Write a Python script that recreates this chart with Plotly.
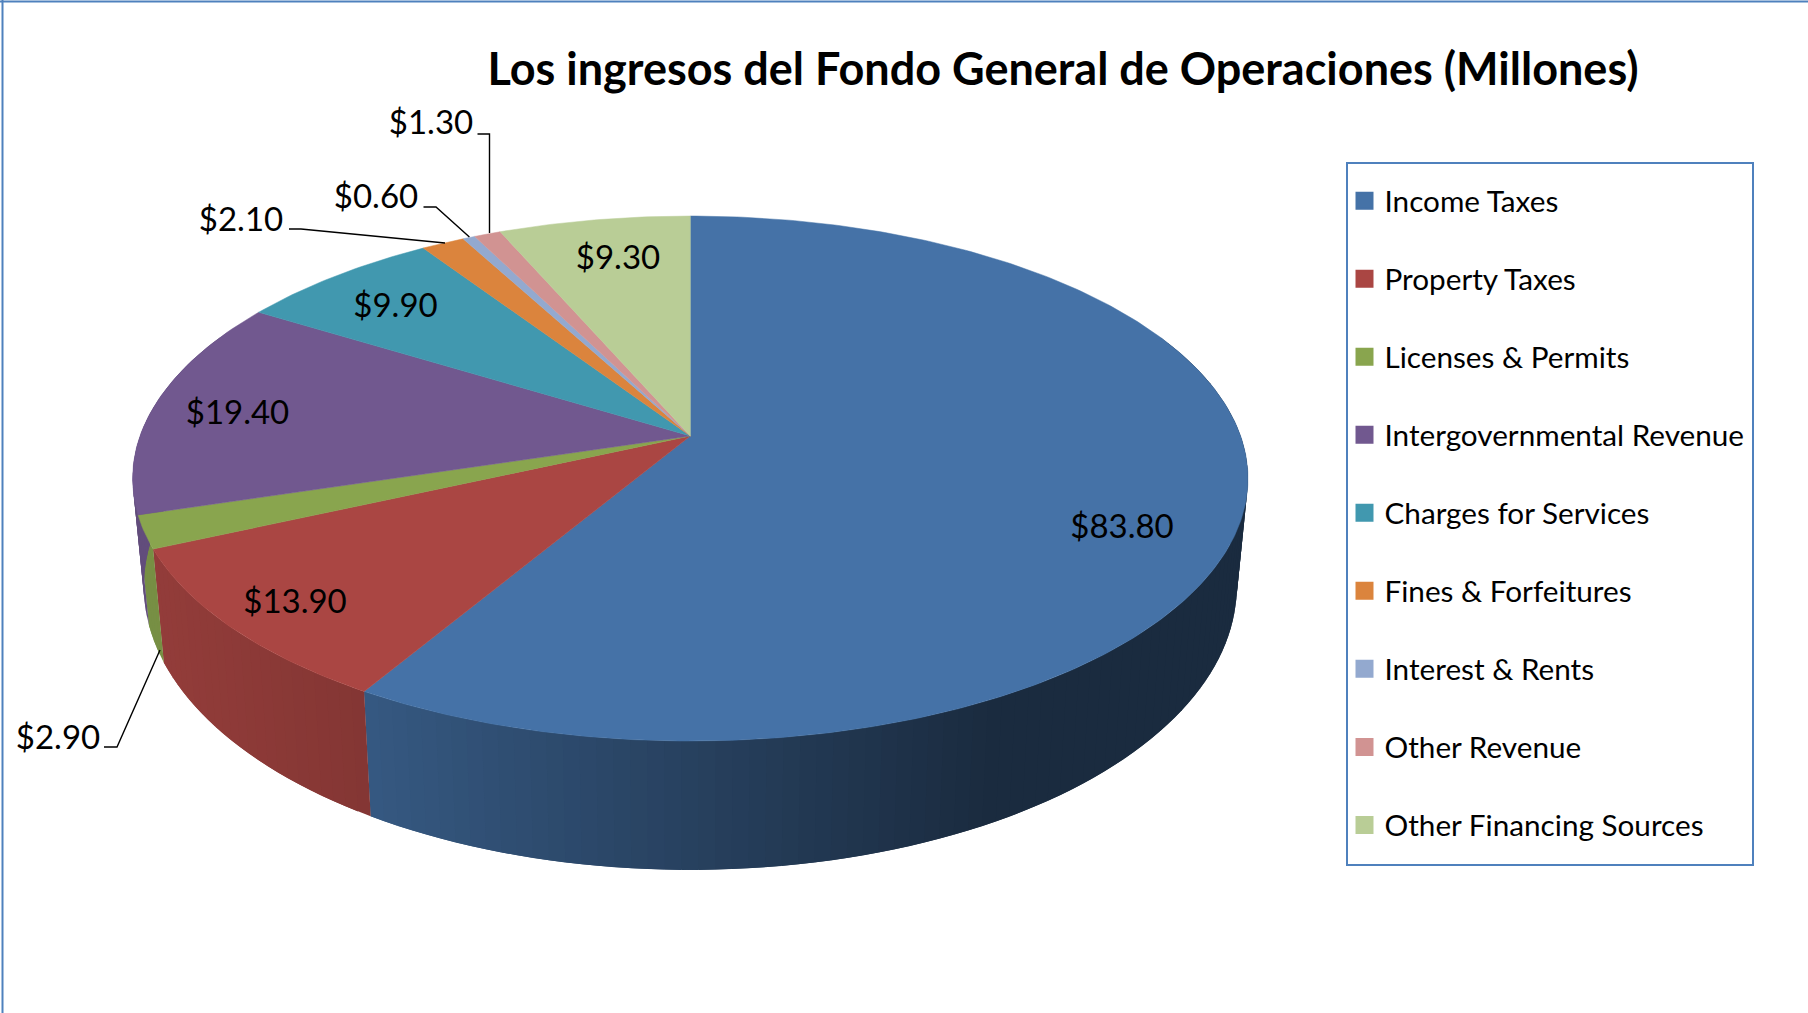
import numpy as np
import plotly.graph_objects as go

# ---- data ----
categories = ["Income Taxes", "Property Taxes", "Licenses & Permits",
              "Intergovernmental Revenue", "Charges for Services",
              "Fines & Forfeitures", "Interest & Rents", "Other Revenue",
              "Other Financing Sources"]
values = [83.8, 13.9, 2.9, 19.4, 9.9, 2.1, 0.6, 1.3, 9.3]
colors = ["#4572A7", "#AA4643", "#89A54E", "#71588F", "#4198AF",
          "#DB843D", "#93A9CF", "#D19392", "#B9CD96"]
title = "Los ingresos del Fondo General de Operaciones (Millones)"

# ---- layout (page pixels) ----
W, H = 1808, 1013
CX, APEX_Y = 690.3, 436.0
A, B, K = 550.3, 255.6, 0.162       # perspective disc
BOTTOM_SX, BOTTOM_SY, BOTTOM_APEX_Y = 0.98, 1.08, 540.5
label_x = [1122, 295, 58, 237.5, 395.5, 241, 376, 431, 618]
label_y = [530, 605, 741, 415.5, 308.5, 223, 200, 126, 260.5]
leaders = [
    ([104, 117, 160], [747, 747, 650]),
    ([289, 301, 445], [229, 229, 243]),
    ([423.5, 436, 469.4], [207, 207, 237]),
    ([477.5, 489.5, 489.5], [134, 134, 233]),
]
FONT = "Lato"
FRAME = "#4F81BD"


def rim(theta, sx=1.0, sy=1.0, apex_y=APEX_Y):
    """Clockwise angle from 12 o'clock -> page pixels, in perspective."""
    X, Y = np.sin(theta), np.cos(theta)
    w = 1 + K * Y
    return CX + sx * A * X / w, apex_y - sy * B * Y / w


def shade(hex_color, x):
    f = np.interp(x, [140, 372, 989, 1248], [0.87, 0.77, 0.38, 0.38])
    r, g, b = (int(hex_color[i:i + 2], 16) for i in (1, 3, 5))
    return f"rgb({r * f:.0f},{g * f:.0f},{b * f:.0f})"


fractions = np.array(values) / sum(values)
edges = np.concatenate([[0], np.cumsum(fractions)]) * 2 * np.pi

fig = go.Figure()

# side wall: bands overlap the next ones so no seams show
for i, col in enumerate(colors):
    t0, t1 = edges[i], edges[i + 1]
    n = max(2, int((t1 - t0) / np.radians(1.5)) + 1)
    ts = np.linspace(t0, t1, n + 1)
    for j in range(n):
        a = ts[j]
        b = ts[min(j + 2, n)]
        if np.cos((a + ts[j + 1]) / 2) > 0.4:
            continue
        seg = np.linspace(a, b, 5)
        xt, yt = rim(seg)
        xb, yb = rim(seg[::-1], BOTTOM_SX, BOTTOM_SY, BOTTOM_APEX_Y)
        c = shade(col, float(rim(np.array([(a + ts[j + 1]) / 2]))[0][0]))
        fig.add_trace(go.Scatter(
            x=np.concatenate([xt, xb]), y=np.concatenate([yt, yb]),
            mode="lines", fill="toself", fillcolor=c,
            line=dict(width=0), hoverinfo="skip", showlegend=False))

# top face
for i, col in enumerate(colors):
    seg = np.linspace(edges[i], edges[i + 1], max(4, int((edges[i + 1] - edges[i]) / np.radians(0.7))))
    xt, yt = rim(seg)
    fig.add_trace(go.Scatter(
        x=np.concatenate([[CX], xt, [CX]]), y=np.concatenate([[APEX_Y], yt, [APEX_Y]]),
        mode="lines", fill="toself", fillcolor=col,
        line=dict(color=col, width=0.5), name=categories[i],
        hoverinfo="name", showlegend=False))

# leader lines
for lx, ly in leaders:
    fig.add_trace(go.Scatter(x=lx, y=ly, mode="lines", line=dict(color="black", width=1.4),
                             hoverinfo="skip", showlegend=False))

# data labels
fig.add_trace(go.Scatter(
    x=label_x, y=label_y, mode="text", text=[f"${v:.2f}" for v in values],
    textposition="middle center", textfont=dict(family=FONT, size=33, color="black"),
    hoverinfo="skip", showlegend=False))

# legend entries
for name, col in zip(categories, colors):
    fig.add_trace(go.Scatter(
        x=[None], y=[None], mode="markers", name=name, legendgroup=name,
        marker=dict(symbol="square", size=16, color=col, line=dict(color=col, width=2))))

fig.update_layout(
    width=W, height=H, margin=dict(l=0, r=0, t=0, b=0),
    paper_bgcolor="white", plot_bgcolor="white",
    xaxis=dict(range=[0, W], visible=False, fixedrange=True),
    yaxis=dict(range=[H, 0], visible=False, fixedrange=True),
    title=dict(text=title, x=1063 / W, xanchor="center", y=1 - 69 / H, yanchor="middle",
               font=dict(family=FONT, size=45, color="black", weight="bold")),
    legend=dict(x=1344.5 / W, y=1 - 175 / H, xanchor="left", yanchor="top",
                bgcolor="rgba(0,0,0,0)", borderwidth=0,
                font=dict(family=FONT, size=29.7, color="black"),
                itemsizing="trace", itemwidth=30, tracegroupgap=36.4,
                entrywidth=370, entrywidthmode="pixels"),
    shapes=[
        dict(type="line", xref="paper", yref="paper", x0=2.5 / W, x1=2.5 / W, y0=0, y1=1,
             line=dict(color=FRAME, width=2)),
        dict(type="line", xref="paper", yref="paper", x0=0, x1=1, y0=1 - 1.5 / H, y1=1 - 1.5 / H,
             line=dict(color=FRAME, width=2)),
        dict(type="rect", xref="x", yref="y", x0=1347, x1=1753, y0=163, y1=865,
             line=dict(color=FRAME, width=2)),
    ],
)

fig.write_html("out.html", config={"displayModeBar": False},
               post_script="document.body.style.margin='0';")
